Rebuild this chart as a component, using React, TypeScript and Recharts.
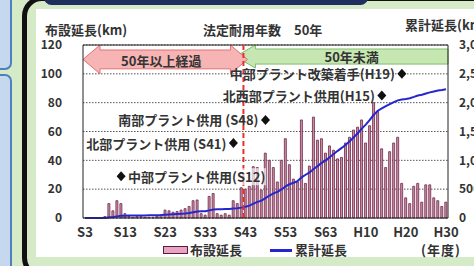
import React from "react";
import {
  ComposedChart,
  Bar,
  Line,
  XAxis,
  YAxis,
  CartesianGrid,
  ReferenceLine,
  ReferenceArea,
  ReferenceDot,
} from "recharts";

// fiscal years S3 (1928) .. H30 (2018)
const years = [
  1928, 1929, 1930, 1931, 1932, 1933, 1934, 1935, 1936, 1937,
  1938, 1939, 1940, 1941, 1942, 1943, 1944, 1945, 1946, 1947,
  1948, 1949, 1950, 1951, 1952, 1953, 1954, 1955, 1956, 1957,
  1958, 1959, 1960, 1961, 1962, 1963, 1964, 1965, 1966, 1967,
  1968, 1969, 1970, 1971, 1972, 1973, 1974, 1975, 1976, 1977,
  1978, 1979, 1980, 1981, 1982, 1983, 1984, 1985, 1986, 1987,
  1988, 1989, 1990, 1991, 1992, 1993, 1994, 1995, 1996, 1997,
  1998, 1999, 2000, 2001, 2002, 2003, 2004, 2005, 2006, 2007,
  2008, 2009, 2010, 2011, 2012, 2013, 2014, 2015, 2016, 2017,
  2018,
];

// 布設延長 (km, left axis)
const laidKm = [
  0, 0, 0, 0, 0, 1, 10, 5, 12, 10,
  3, 1, 0.5, 1, 1, 0.5, 0.5, 0.5, 1.5, 2,
  5.5, 5, 4, 4.5, 5.5, 6.5, 8, 12, 12.5, 3,
  2, 15, 17, 3, 2, 3, 2, 12, 10, 21,
  20, 22, 35.6, 35, 19.4, 45, 40, 35, 25, 40,
  55, 37, 27, 25, 68, 24, 36, 70, 54, 55,
  45, 50, 47, 41, 42, 52, 56, 61, 63, 68,
  52, 64, 80, 74, 48, 35, 46, 52, 56, 24,
  14, 10, 22, 24, 11, 23, 23, 14, 12, 8,
  11,
];

// 累計延長 (km, right axis)
const totalKm = [
  0, 0, 0, 0, 0, 1, 11, 16, 28, 38,
  41, 42, 43, 44, 45, 45, 46, 46, 48, 50,
  55, 60, 64, 69, 74, 80, 88, 100, 112, 115,
  117, 132, 148, 151, 153, 156, 158, 165, 170, 180,
  195, 215, 248, 280, 300, 345, 390, 428, 455, 495,
  548, 585, 612, 640, 705, 750, 790, 850, 900, 955,
  1000, 1055, 1110, 1165, 1215, 1270, 1330, 1400, 1470, 1550,
  1620, 1700, 1790, 1860, 1900, 1940, 1975, 2010, 2040, 2055,
  2065, 2078, 2100, 2125, 2138, 2160, 2178, 2195, 2210, 2220,
  2232,
];

const tickYears = [1928, 1938, 1948, 1958, 1968, 1978, 1988, 1998, 2008, 2018];
const tickLabels = ["S3", "S13", "S23", "S33", "S43", "S53", "S63", "H10", "H20", "H30"];
const leftTicks = [0, 20, 40, 60, 80, 100, 120];
const rightTicks = [0, 500, 1000, 1500, 2000, 2500, 3000];
const seriesNames = ["布設延長", "累計延長"];

const boundaryYear = 1968;
const overYears = [1928, 1968];
const underYears = [1966, 2018];
const overLabel = "50年以上経過";
const underLabel = "50年未満";

const milestoneYears = [2007, 2002, 1973, 1965, 1937];
const milestoneLevels = [100, 85, 68, 52, 29];
const milestoneLabels = [
  "中部プラント改築着手(H19)",
  "北西部プラント供用(H15)",
  "南部プラント供用 (S48)",
  "北部プラント供用 (S41)",
  "中部プラント供用(S12)",
];
const milestoneSides = ["left", "left", "left", "left", "right"];

const data = years.map((y, i) => ({ year: y, laid: laidKm[i], total: totalKm[i] }));

const FONT = "'Noto Sans CJK JP', 'Noto Sans', sans-serif";
const GREEN = "#d5eac6";
const TEXT = "#333333";
const BAR_FILL = "#cc8fa8";
const BAR_STROKE = "#6e2748";
const LINE = "#2626cf";

const PinkArrow = (p: any) => {
  const { x, y, width: w, height: h } = p;
  const head = 17;
  const inset = 5;
  const pts = [
    [x, y + h / 2],
    [x + head, y],
    [x + head, y + inset],
    [x + w - head, y + inset],
    [x + w - head, y],
    [x + w, y + h / 2],
    [x + w - head, y + h],
    [x + w - head, y + h - inset],
    [x + head, y + h - inset],
    [x + head, y + h],
  ]
    .map((q) => q.join(","))
    .join(" ");
  return (
    <g>
      <polygon points={pts} fill="#f7b4b4" stroke="#e07070" strokeWidth={1} />
      <text
        x={x + w / 2 - 4}
        y={y + h / 2 + 1}
        textAnchor="middle"
        dominantBaseline="central"
        fontSize={13}
        fontWeight={700}
        fill={TEXT}
        fontFamily={FONT}
      >
        {overLabel}
      </text>
    </g>
  );
};

const GreenArrow = (p: any) => {
  const { x, y, width: w, height: h } = p;
  const head = 20;
  const inset = 4;
  const pts = [
    [x, y + h / 2],
    [x + head, y],
    [x + head, y + inset],
    [x + w, y + inset],
    [x + w, y + h - inset],
    [x + head, y + h - inset],
    [x + head, y + h],
  ]
    .map((q) => q.join(","))
    .join(" ");
  return (
    <g>
      <polygon points={pts} fill="#c6e6b2" stroke="#7fbd68" strokeWidth={1} />
      <text
        x={(x + head + x + w) / 2}
        y={y + h / 2}
        textAnchor="middle"
        dominantBaseline="central"
        fontSize={13}
        fontWeight={700}
        fill={TEXT}
        fontFamily={FONT}
      >
        {underLabel}
      </text>
    </g>
  );
};

const makeMilestone = (label: string, side: string) => (p: any) => {
  const { cx, cy } = p;
  const right = side === "right";
  const tx = right ? cx + 7 : cx - 7;
  const approxW = 134;
  return (
    <g>
      {right && (
        <rect x={tx - 2} y={cy - 8} width={approxW + 6} height={17} fill="#ffffff" fillOpacity={0.65} />
      )}
      <polygon
        points={`${cx},${cy - 5} ${cx + 4.5},${cy} ${cx},${cy + 5} ${cx - 4.5},${cy}`}
        fill="#111"
      />
      <text
        x={tx}
        y={cy}
        textAnchor={right ? "start" : "end"}
        dominantBaseline="central"
        fontSize={13}
        fontWeight={700}
        fill={TEXT}
        fontFamily={FONT}
      >
        {label}
      </text>
    </g>
  );
};

const fmtRight = (v: number) => v.toLocaleString("en-US");
const fmtX = (v: number) => {
  const i = tickYears.indexOf(v);
  return i >= 0 ? tickLabels[i] : "";
};

export default function App() {
  const abs = (s: React.CSSProperties): React.CSSProperties => ({ position: "absolute", ...s });
  return (
    <div
      style={abs({
        left: 0,
        top: 0,
        width: 474,
        height: 266,
        overflow: "hidden",
        background: GREEN,
        fontFamily: FONT,
      })}
    >
      {/* left side panels */}
      <div style={abs({ left: -12, top: -10, width: 20, height: 76, background: "#c6d8ee", border: "2px solid #4f7fbf", borderRadius: 7 })} />
      <div style={abs({ left: -12, top: 74, width: 20, height: 220, background: "#c6d8ee", border: "2px solid #4f7fbf", borderRadius: 7 })} />
      {/* black rounded frame */}
      <div style={abs({ left: 22, top: -4, width: 480, height: 272, border: "5px solid #111", borderRadius: 20, background: GREEN })} />
      {/* navy header strip */}
      <div style={abs({ left: 44, top: -10, width: 324, height: 15, background: "#1e2f5e", borderRadius: 8 })} />
      {/* white panel */}
      <div style={abs({ left: 36, top: 9, width: 460, height: 248, background: "#ffffff" })} />

      {/* titles */}
      <div style={abs({ left: 45, top: 22, fontSize: 13, fontWeight: 700, color: TEXT, lineHeight: "16px", whiteSpace: "nowrap" })}>
        布設延長(km)
      </div>
      <div style={abs({ left: 203, top: 22, fontSize: 13, fontWeight: 700, color: TEXT, lineHeight: "16px", whiteSpace: "nowrap" })}>
        法定耐用年数　50年
      </div>
      <div style={abs({ left: 405, top: 17, fontSize: 13, fontWeight: 700, color: TEXT, lineHeight: "16px", whiteSpace: "nowrap" })}>
        累計延長(km)
      </div>

      <div style={abs({ left: 0, top: 0 })}>
        <ComposedChart
          width={474}
          height={266}
          data={data}
          margin={{ top: 45, right: 0, bottom: 26, left: 53 }}
          barCategoryGap="20%"
        >
          <CartesianGrid
            yAxisId="left"
            vertical={false}
            stroke="#555"
            strokeDasharray="1.5 1.5"
          />
          <XAxis
            dataKey="year"
            type="category"
            ticks={tickYears}
            interval={0}
            tickFormatter={fmtX}
            tickSize={0}
            tickMargin={10}
            height={22}
            axisLine={{ stroke: "#222" }}
            tick={{ fontSize: 13, fontWeight: 700, fill: TEXT, fontFamily: FONT }}
          />
          <YAxis
            yAxisId="left"
            domain={[0, 120]}
            ticks={leftTicks}
            width={30}
            tickSize={0}
            tickMargin={21}
            axisLine={{ stroke: "#222" }}
            tick={{ fontSize: 12, fontWeight: 700, fill: TEXT, fontFamily: FONT }}
          />
          <YAxis
            yAxisId="right"
            orientation="right"
            domain={[0, 3000]}
            ticks={rightTicks}
            tickFormatter={fmtRight}
            width={26}
            tickSize={0}
            tickMargin={11}
            axisLine={{ stroke: "#222" }}
            tick={{ fontSize: 12, fontWeight: 700, fill: TEXT, fontFamily: FONT, textAnchor: "start" }}
          />
          <Bar
            yAxisId="left"
            dataKey="laid"
            name={seriesNames[0]}
            fill={BAR_FILL}
            stroke={BAR_STROKE}
            strokeWidth={0.8}
            isAnimationActive={false}
          />
          <Line
            yAxisId="right"
            dataKey="total"
            name={seriesNames[1]}
            type="linear"
            stroke={LINE}
            strokeWidth={2}
            dot={false}
            isAnimationActive={false}
          />
          <ReferenceLine yAxisId="left" y={120} stroke="#222" strokeWidth={1} />
          <ReferenceArea
            yAxisId="left"
            x1={underYears[0]}
            x2={underYears[1]}
            y1={104}
            y2={120}
            shape={GreenArrow}
            ifOverflow="visible"
          />
          <ReferenceArea
            yAxisId="left"
            x1={overYears[0]}
            x2={overYears[1]}
            y1={100}
            y2={120}
            shape={PinkArrow}
            ifOverflow="visible"
          />
          <ReferenceLine
            yAxisId="left"
            x={boundaryYear}
            position="start"
            stroke="#e83030"
            strokeWidth={2}
            strokeDasharray="5 3"
          />
          {milestoneYears.map((yr, i) => (
            <ReferenceDot
              key={i}
              yAxisId="left"
              x={yr}
              y={milestoneLevels[i]}
              r={4}
              ifOverflow="visible"
              shape={makeMilestone(milestoneLabels[i], milestoneSides[i])}
            />
          ))}
        </ComposedChart>
      </div>

      {/* legend */}
      <div style={abs({ left: 163, top: 246, width: 23, height: 6, background: "#e8a4c4", border: "1px solid #5a1d3a" })} />
      <div style={abs({ left: 190, top: 242, fontSize: 13, fontWeight: 700, color: TEXT, lineHeight: "16px", whiteSpace: "nowrap" })}>
        {seriesNames[0]}
      </div>
      <div style={abs({ left: 270, top: 249, width: 22, height: 2.5, background: LINE })} />
      <div style={abs({ left: 295, top: 242, fontSize: 13, fontWeight: 700, color: TEXT, lineHeight: "16px", whiteSpace: "nowrap" })}>
        {seriesNames[1]}
      </div>
      <div style={abs({ left: 421, top: 242, fontSize: 13, fontWeight: 700, color: TEXT, lineHeight: "16px", whiteSpace: "nowrap", letterSpacing: 1 })}>
        (年度)
      </div>
    </div>
  );
}
